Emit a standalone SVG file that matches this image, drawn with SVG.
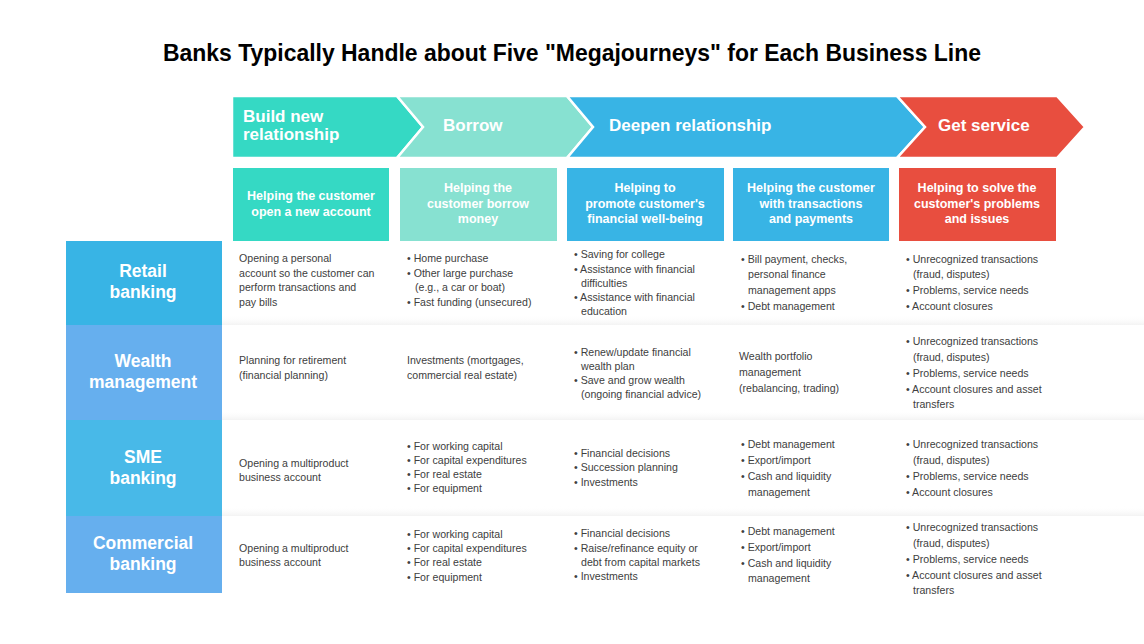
<svg xmlns="http://www.w3.org/2000/svg" width="1144" height="644" viewBox="0 0 1144 644">
<defs>
<linearGradient id="sep" x1="0" y1="0" x2="0" y2="1">
<stop offset="0" stop-color="#ffffff" stop-opacity="0"/>
<stop offset="1" stop-color="#f0f0f0" stop-opacity="0.8"/>
</linearGradient>
<style>
.title{font-family:"Liberation Sans",Arial,sans-serif;font-weight:bold;font-size:24px;fill:#000}
.chev{stroke:#fff;stroke-width:2.5;stroke-linejoin:miter}
.ct{font-family:"Liberation Sans",Arial,sans-serif;font-weight:bold;font-size:17px;fill:#fff}
.ht{font-family:"Liberation Sans",Arial,sans-serif;font-weight:bold;font-size:12.5px;fill:#fff;text-anchor:middle}
.rt{font-family:"Liberation Sans",Arial,sans-serif;font-weight:bold;font-size:17.5px;fill:#fff;text-anchor:middle}
.tx{font-family:"Liberation Sans",Arial,sans-serif;font-size:10.6px;fill:#404040}
.teal{fill:#35D9C4}.mint{fill:#87E1D1}.sky{fill:#38B4E5}.red{fill:#E84E3F}
.rowA{fill:#38B4E5}.rowB{fill:#66AFEE}.rowC{fill:#48B9E8}
</style>
</defs>
<rect width="1144" height="644" fill="#fff"/>
<text class="title" x="572" y="61" text-anchor="middle" textLength="818" lengthAdjust="spacingAndGlyphs">Banks Typically Handle about Five "Megajourneys" for Each Business Line</text>

<g id="separators">
<rect x="222" y="315" width="922" height="10" fill="url(#sep)"/>
<rect x="222" y="410" width="922" height="10" fill="url(#sep)"/>
<rect x="222" y="506" width="922" height="10" fill="url(#sep)"/>
</g>

<g id="chevron-build">
<polygon class="chev teal" points="232,96 397,96 423,127 397,158 232,158"/>
<text class="ct" x="243" y="122">Build new</text>
<text class="ct" x="243" y="140">relationship</text>
</g>
<g id="chevron-borrow">
<polygon class="chev mint" points="397,96 567,96 593,127 567,158 397,158 423,127"/>
<text class="ct" x="443" y="131">Borrow</text>
</g>
<g id="chevron-deepen">
<polygon class="chev sky" points="567,96 897,96 925,127 897,158 567,158 593,127"/>
<text class="ct" x="609" y="131">Deepen relationship</text>
</g>
<g id="chevron-service">
<polygon class="chev red" points="897,96 1057,96 1085,127 1057,158 897,158 925,127"/>
<text class="ct" x="938" y="131">Get service</text>
</g>

<g id="header-1">
<rect class="teal" x="233" y="168" width="156" height="73"/>
<text class="ht" x="311" y="200">Helping the customer</text>
<text class="ht" x="311" y="216">open a new account</text>
</g>
<g id="header-2">
<rect class="mint" x="400" y="168" width="157" height="73"/>
<text class="ht" x="478" y="192">Helping the</text>
<text class="ht" x="478" y="208">customer borrow</text>
<text class="ht" x="478" y="223">money</text>
</g>
<g id="header-3">
<rect class="sky" x="567" y="168" width="157" height="73"/>
<text class="ht" x="645" y="192">Helping to</text>
<text class="ht" x="645" y="208">promote customer's</text>
<text class="ht" x="645" y="223">financial well-being</text>
</g>
<g id="header-4">
<rect class="sky" x="733" y="168" width="156" height="73"/>
<text class="ht" x="811" y="192">Helping the customer</text>
<text class="ht" x="811" y="208">with transactions</text>
<text class="ht" x="811" y="223">and payments</text>
</g>
<g id="header-5">
<rect class="red" x="899" y="168" width="157" height="73"/>
<text class="ht" x="977" y="192">Helping to solve the</text>
<text class="ht" x="977" y="208">customer's problems</text>
<text class="ht" x="977" y="223">and issues</text>
</g>

<g id="row-retail">
<rect class="rowA" x="66" y="241" width="156" height="84"/>
<text class="rt" x="143" y="277">Retail</text>
<text class="rt" x="143" y="298">banking</text>
</g>
<g id="row-wealth">
<rect class="rowB" x="66" y="325" width="156" height="95"/>
<text class="rt" x="143" y="367">Wealth</text>
<text class="rt" x="143" y="388">management</text>
</g>
<g id="row-sme">
<rect class="rowC" x="66" y="420" width="156" height="96"/>
<text class="rt" x="143" y="463">SME</text>
<text class="rt" x="143" y="484">banking</text>
</g>
<g id="row-commercial">
<rect class="rowB" x="66" y="516" width="156" height="77"/>
<text class="rt" x="143" y="549">Commercial</text>
<text class="rt" x="143" y="570">banking</text>
</g>

<g id="cells-retail" class="tx">
<text x="239" y="262">Opening a personal</text>
<text x="239" y="276.5">account so the customer can</text>
<text x="239" y="291">perform transactions and</text>
<text x="239" y="305.5">pay bills</text>

<text x="407" y="262">• Home purchase</text>
<text x="407" y="276.5">• Other large purchase</text>
<text x="415" y="291">(e.g., a car or boat)</text>
<text x="407" y="305.5">• Fast funding (unsecured)</text>

<text x="574" y="258">• Saving for college</text>
<text x="574" y="272.5">• Assistance with financial</text>
<text x="581" y="286.5">difficulties</text>
<text x="574" y="301">• Assistance with financial</text>
<text x="581" y="315">education</text>

<text x="741" y="263">• Bill payment, checks,</text>
<text x="748" y="278">personal finance</text>
<text x="748" y="294">management apps</text>
<text x="741" y="310">• Debt management</text>

<text x="906" y="263">• Unrecognized transactions</text>
<text x="913" y="278">(fraud, disputes)</text>
<text x="906" y="294">• Problems, service needs</text>
<text x="906" y="310">• Account closures</text>
</g>

<g id="cells-wealth" class="tx">
<text x="239" y="364">Planning for retirement</text>
<text x="239" y="378.5">(financial planning)</text>

<text x="407" y="364">Investments (mortgages,</text>
<text x="407" y="378.5">commercial real estate)</text>

<text x="574" y="356">• Renew/update financial</text>
<text x="581" y="370">wealth plan</text>
<text x="574" y="384">• Save and grow wealth</text>
<text x="581" y="398">(ongoing financial advice)</text>

<text x="739" y="360">Wealth portfolio</text>
<text x="739" y="376">management</text>
<text x="739" y="392">(rebalancing, trading)</text>

<text x="906" y="345">• Unrecognized transactions</text>
<text x="913" y="361">(fraud, disputes)</text>
<text x="906" y="376.5">• Problems, service needs</text>
<text x="906" y="392.5">• Account closures and asset</text>
<text x="913" y="408">transfers</text>
</g>

<g id="cells-sme" class="tx">
<text x="239" y="466.5">Opening a multiproduct</text>
<text x="239" y="481">business account</text>

<text x="407" y="449.5">• For working capital</text>
<text x="407" y="463.5">• For capital expenditures</text>
<text x="407" y="478">• For real estate</text>
<text x="407" y="492">• For equipment</text>

<text x="574" y="456.5">• Financial decisions</text>
<text x="574" y="471">• Succession planning</text>
<text x="574" y="485.5">• Investments</text>

<text x="741" y="448">• Debt management</text>
<text x="741" y="464">• Export/import</text>
<text x="741" y="480">• Cash and liquidity</text>
<text x="748" y="496">management</text>

<text x="906" y="448">• Unrecognized transactions</text>
<text x="913" y="464">(fraud, disputes)</text>
<text x="906" y="480">• Problems, service needs</text>
<text x="906" y="496">• Account closures</text>
</g>

<g id="cells-commercial" class="tx">
<text x="239" y="551.5">Opening a multiproduct</text>
<text x="239" y="566">business account</text>

<text x="407" y="537.5">• For working capital</text>
<text x="407" y="551.5">• For capital expenditures</text>
<text x="407" y="566">• For real estate</text>
<text x="407" y="580.5">• For equipment</text>

<text x="574" y="537">• Financial decisions</text>
<text x="574" y="551.5">• Raise/refinance equity or</text>
<text x="581" y="566">debt from capital markets</text>
<text x="574" y="580">• Investments</text>

<text x="741" y="535">• Debt management</text>
<text x="741" y="551">• Export/import</text>
<text x="741" y="567">• Cash and liquidity</text>
<text x="748" y="582">management</text>

<text x="906" y="531">• Unrecognized transactions</text>
<text x="913" y="547">(fraud, disputes)</text>
<text x="906" y="563">• Problems, service needs</text>
<text x="906" y="578.5">• Account closures and asset</text>
<text x="913" y="594">transfers</text>
</g>
</svg>
